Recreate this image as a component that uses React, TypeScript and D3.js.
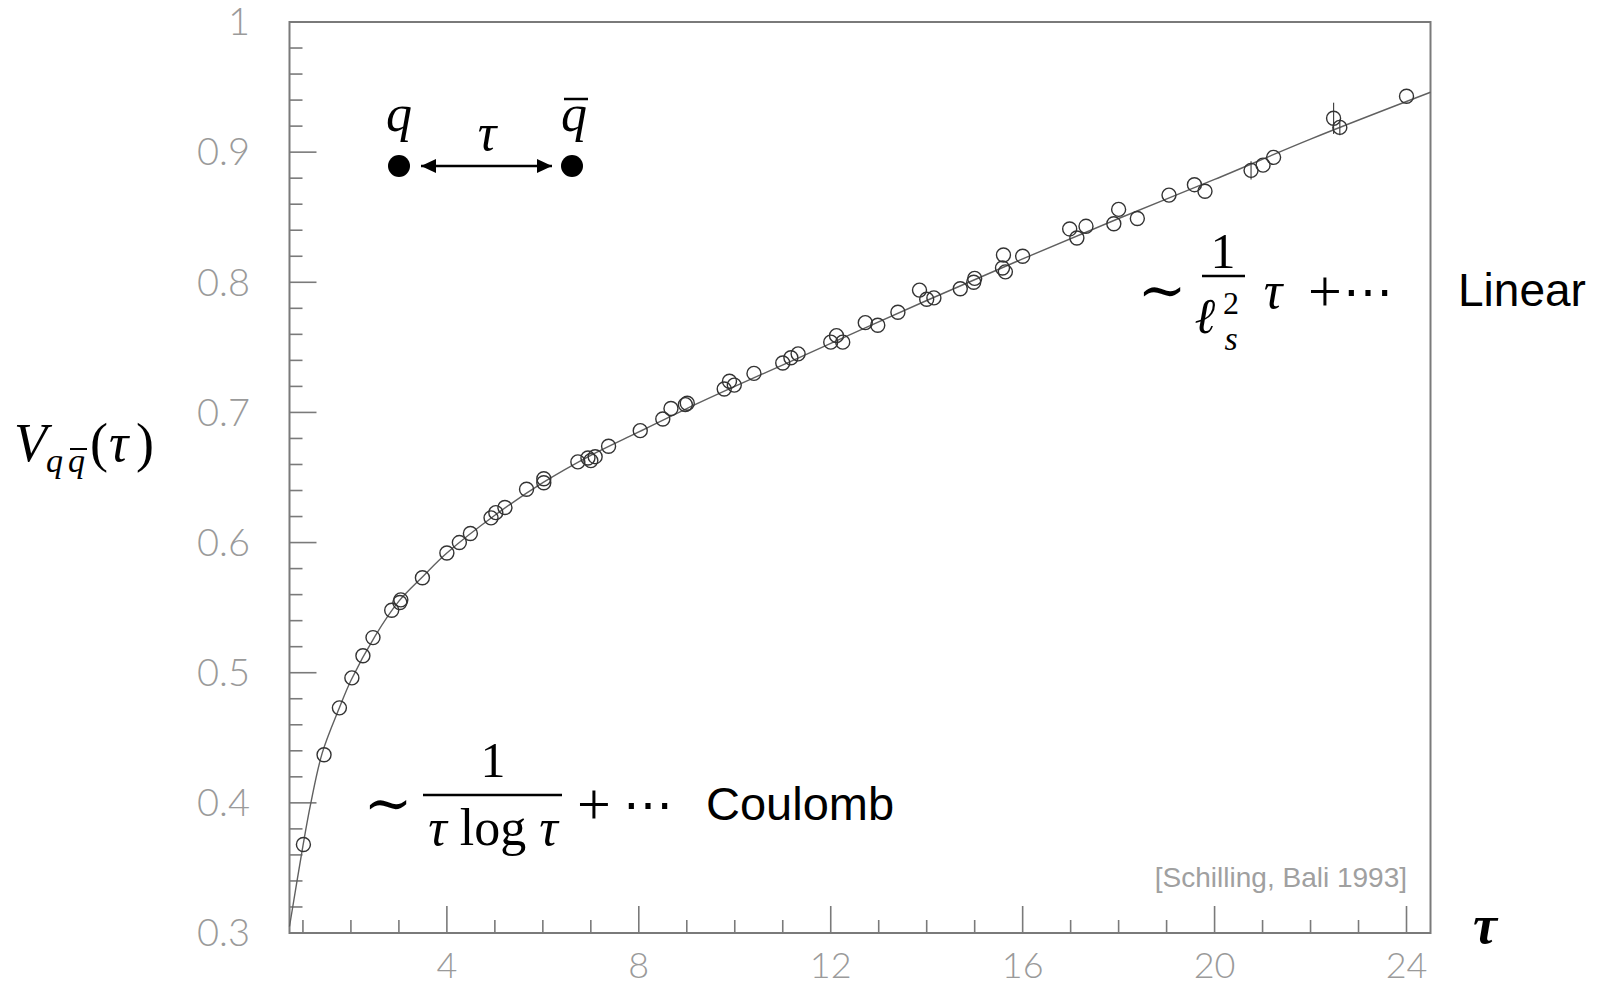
import React from "react";
import * as d3 from "d3";

// ---- data ----
const tauData = [1.01, 1.44, 1.76, 2.02, 2.25, 2.46, 2.85, 3.02, 3.04, 3.49, 4.0, 4.26, 4.49, 4.92, 5.02, 5.21, 5.66, 6.02, 6.02, 6.73, 6.94, 7.0, 7.09, 7.37, 8.03, 8.5, 8.67, 8.97, 9.01, 9.78, 9.89, 9.99, 10.4, 11.0, 11.17, 11.32, 12.0, 12.12, 12.25, 12.72, 12.98, 13.4, 13.85, 14.0, 14.15, 14.7, 14.98, 15.0, 15.58, 15.6, 15.64, 16.0, 16.98, 17.13, 17.32, 17.9, 18.0, 18.39, 19.05, 19.58, 19.8, 20.76, 21.01, 21.23, 22.48, 22.61, 24.0];
const vData = [0.368, 0.437, 0.473, 0.496, 0.513, 0.527, 0.548, 0.554, 0.556, 0.573, 0.592, 0.6, 0.607, 0.619, 0.623, 0.627, 0.641, 0.646, 0.649, 0.662, 0.665, 0.663, 0.666, 0.674, 0.686, 0.695, 0.703, 0.706, 0.707, 0.718, 0.724, 0.721, 0.73, 0.738, 0.742, 0.745, 0.754, 0.759, 0.754, 0.769, 0.767, 0.777, 0.794, 0.787, 0.788, 0.795, 0.8, 0.803, 0.811, 0.821, 0.808, 0.82, 0.841, 0.834, 0.843, 0.845, 0.856, 0.849, 0.867, 0.875, 0.87, 0.886, 0.89, 0.896, 0.926, 0.919, 0.943];
const vErr = [0, 0, 0, 0, 0, 0, 0, 0, 0, 0, 0, 0, 0, 0, 0, 0, 0, 0, 0, 0, 0, 0, 0, 0, 0, 0, 0, 0, 0, 0, 0, 0, 0, 0, 0, 0, 0, 0, 0, 0, 0, 0, 0, 0, 0, 0, 0, 0, 0, 0, 0, 0, 0, 0, 0, 0, 0, 0, 0, 0, 0, 0.007, 0, 0, 0.012, 0.006, 0];

const curveTau = [0.72, 1.0, 1.16, 1.4, 1.76, 2.0, 2.5, 3.0, 3.5, 4.0, 5.0, 6.0, 7.0, 8.0, 9.0, 10.0, 12.0, 14.0, 16.0, 18.0, 20.0, 22.0, 24.5];
const curveV = [0.305, 0.367, 0.399, 0.438, 0.473, 0.494, 0.528, 0.555, 0.574, 0.592, 0.621, 0.646, 0.667, 0.685, 0.703, 0.72, 0.753, 0.786, 0.818, 0.849, 0.879, 0.91, 0.946];

const yMajorTicks = [0.3, 0.4, 0.5, 0.6, 0.7, 0.8, 0.9, 1.0];
const yTickLabels = ["0.3", "0.4", "0.5", "0.6", "0.7", "0.8", "0.9", "1"];
const xMajorTicks = [4, 8, 12, 16, 20, 24];
const xTickLabels = ["4", "8", "12", "16", "20", "24"];

const W = 1604;
const H = 983;

export default function App() {
  const x = d3.scaleLinear().domain([0.72, 24.5]).range([289.5, 1430.5]);
  const y = d3.scaleLinear().domain([0.3, 1.0]).range([933, 22]);

  const yMinor = d3.range(0.3, 1.0001, 0.02).map((v) => +v.toFixed(2));
  const xMinor = d3.range(1, 25, 1);

  const line = d3
    .line<number>()
    .x((_, i) => x(curveTau[i]))
    .y((_, i) => y(curveV[i]))
    .curve(d3.curveCatmullRom.alpha(0.5));

  const axisColor = "#7a7a7a";
  const labelColor = "#9a9a9a";
  const tickFont = "'Lato', 'DejaVu Sans', sans-serif";
  const mathFont = "'Liberation Serif', 'DejaVu Serif', serif";
  const sansFont = "'Liberation Sans', Arial, sans-serif";

  return (
    <svg
      width={W}
      height={H}
      style={{ position: "absolute", left: 0, top: 0, background: "#fff" }}
      xmlns="http://www.w3.org/2000/svg"
    >
      <defs>
        <marker id="ah" viewBox="0 0 10 10" refX="10" refY="5" markerWidth="15" markerHeight="14" orient="auto-start-reverse" markerUnits="userSpaceOnUse" preserveAspectRatio="none">
          <path d="M0,0 L10,5 L0,10 z" fill="#000" />
        </marker>
      </defs>
      <rect x={0} y={0} width={W} height={H} fill="#fff" />

      {/* frame */}
      <rect
        x={x.range()[0]}
        y={y.range()[1]}
        width={x.range()[1] - x.range()[0]}
        height={y.range()[0] - y.range()[1]}
        fill="none"
        stroke={axisColor}
        strokeWidth={2}
      />

      {/* y ticks */}
      {yMinor.map((v, i) => {
        const major = yMajorTicks.some((m) => Math.abs(m - v) < 1e-6);
        return (
          <line
            key={"ym" + i}
            x1={x.range()[0]}
            x2={x.range()[0] + (major ? 27 : 13)}
            y1={y(v)}
            y2={y(v)}
            stroke={axisColor}
            strokeWidth={1.6}
          />
        );
      })}
      {yMajorTicks.map((v, i) => (
        <text
          key={"yl" + i}
          x={250}
          y={y(v)}
          dy="0.35em"
          textAnchor="end"
          fontFamily={tickFont}
          fontWeight={300}
          fontSize={38}
          fill={labelColor}
        >
          {yTickLabels[i]}
        </text>
      ))}

      {/* x ticks */}
      {xMinor.map((v, i) => {
        const major = xMajorTicks.includes(v);
        return (
          <line
            key={"xm" + i}
            x1={x(v)}
            x2={x(v)}
            y1={y.range()[0]}
            y2={y.range()[0] - (major ? 27 : 13)}
            stroke={axisColor}
            strokeWidth={1.6}
          />
        );
      })}
      {xMajorTicks.map((v, i) => (
        <text
          key={"xl" + i}
          x={x(v)}
          y={978}
          textAnchor="middle"
          fontFamily={tickFont}
          fontWeight={300}
          fontSize={36}
          fill={labelColor}
        >
          {xTickLabels[i]}
        </text>
      ))}

      {/* fit curve */}
      <path d={line(curveTau) || ""} fill="none" stroke="#606060" strokeWidth={1.4} />

      {/* error bars */}
      {tauData.map((t, i) =>
        vErr[i] > 0 ? (
          <line
            key={"e" + i}
            x1={x(t)}
            x2={x(t)}
            y1={y(vData[i] - vErr[i])}
            y2={y(vData[i] + vErr[i])}
            stroke="#444"
            strokeWidth={1.2}
          />
        ) : null
      )}

      {/* data points */}
      {tauData.map((t, i) => (
        <circle
          key={"p" + i}
          cx={x(t)}
          cy={y(vData[i])}
          r={7}
          fill="none"
          stroke="#333"
          strokeWidth={1.4}
        />
      ))}

      {/* y label */}
      <g fontFamily={mathFont} fontStyle="italic" fill="#000">
        <text x={14} y={461} fontSize={54}>V</text>
        <text x={46} y={472} fontSize={34}>q</text>
        <text x={68} y={472} fontSize={34}>q</text>
        <line x1={70} x2={87} y1={449} y2={449} stroke="#000" strokeWidth={2} />
        <text x={90} y={461} fontSize={54} fontStyle="normal">(</text>
        <text x={109} y={461} fontSize={54}>τ</text>
        <text x={136} y={461} fontSize={54} fontStyle="normal">)</text>
      </g>

      {/* x label */}
      <text x={1485} y={924} dy="0.35em" textAnchor="middle" fontFamily={mathFont} fontStyle="italic" fontWeight="bold" fontSize={54} fill="#000">
        τ
      </text>

      {/* quark diagram */}
      <g fontFamily={mathFont} fontStyle="italic" fill="#000" fontSize={52} textAnchor="middle">
        <text x={399} y={131}>q</text>
        <text x={574} y={131}>q</text>
        <line x1={564} x2={588} y1={99} y2={99} stroke="#000" strokeWidth={2.5} />
        <text x={487} y={150}>τ</text>
      </g>
      <circle cx={399} cy={166} r={11} fill="#000" />
      <circle cx={572} cy={166} r={11} fill="#000" />
      <line x1={421} x2={552} y1={166} y2={166} stroke="#000" strokeWidth={2.4} markerStart="url(#ah)" markerEnd="url(#ah)" />

      {/* Coulomb formula */}
      <g fontFamily={mathFont} fill="#000" fontSize={50}>
        <text x={388} y={803} dy="0.35em" textAnchor="middle" fontSize={58}>∼</text>
        <text x={493} y={777} textAnchor="middle" fontStyle="normal">1</text>
        <line x1={423} x2={562} y1={795} y2={795} stroke="#000" strokeWidth={2.5} />
        <text x={493} y={845} textAnchor="middle" fontSize={52}>
          <tspan fontStyle="italic">τ</tspan>
          <tspan> log </tspan>
          <tspan fontStyle="italic">τ</tspan>
        </text>
        <text x={594} y={803} dy="0.35em" textAnchor="middle" fontSize={60}>+</text>
        <text x={648} y={803} dy="0.35em" textAnchor="middle">⋯</text>
      </g>
      <text x={706} y={820} fontFamily={sansFont} fontSize={47} fill="#000">Coulomb</text>

      {/* Linear formula */}
      <g fontFamily={mathFont} fill="#000" fontSize={50}>
        <text x={1162} y={290} dy="0.35em" textAnchor="middle" fontSize={58}>∼</text>
        <text x={1223} y={268} textAnchor="middle">1</text>
        <line x1={1202} x2={1245} y1={276} y2={276} stroke="#000" strokeWidth={2.5} />
        <text x={1205} y={333} textAnchor="middle" fontStyle="italic">ℓ</text>
        <text x={1231} y={314} textAnchor="middle" fontSize={32}>2</text>
        <text x={1231} y={350} textAnchor="middle" fontSize={34} fontStyle="italic">s</text>
        <text x={1273} y={290} dy="0.35em" textAnchor="middle" fontStyle="italic" fontSize={52}>τ</text>
        <text x={1325} y={290} dy="0.35em" textAnchor="middle" fontSize={60}>+</text>
        <text x={1368} y={290} dy="0.35em" textAnchor="middle">⋯</text>
      </g>
      <text x={1458} y={306} fontFamily={sansFont} fontSize={46} fill="#000">Linear</text>

      {/* citation */}
      <text x={1407} y={877} dy="0.35em" textAnchor="end" fontFamily={sansFont} fontSize={28} fill="#a0a0a0">
        [Schilling, Bali 1993]
      </text>
    </svg>
  );
}
